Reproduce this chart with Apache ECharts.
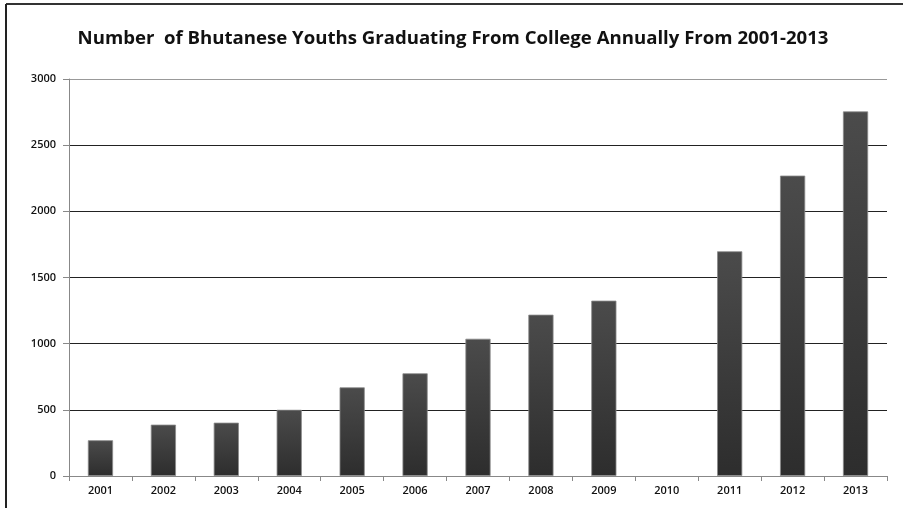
<!DOCTYPE html>
<html>
<head>
<meta charset="utf-8">
<script src="https://cdn.jsdelivr.net/npm/echarts@6/dist/echarts.min.js"></script>
<style>
html,body{margin:0;padding:0;background:#fff;}
#chart{width:903px;height:508px;}
</style>
</head>
<body>
<div id="chart"></div>
<script>
var titleText = 'Number  of Bhutanese Youths Graduating From College Annually From 2001-2013';
var years = ['2001','2002','2003','2004','2005','2006','2007','2008','2009','2010','2011','2012','2013'];
var graduates = [270, 388, 403, 500, 670, 776, 1037, 1219, 1325, 0, 1698, 2270, 2755];
var yTicks = [0, 500, 1000, 1500, 2000, 2500, 3000];

var chart = echarts.init(document.getElementById('chart'), null, {renderer: 'canvas'});
chart.setOption({
  animation: false,
  backgroundColor: '#ffffff',
  title: {
    text: titleText,
    left: 448,
    textAlign: 'center',
    top: 24,
    textStyle: {fontFamily: 'Open Sans', fontWeight: 'bold', fontSize: 18.6, color: '#111'}
  },
  graphic: [
    {type: 'line', shape: {x1: 6, y1: 4, x2: 903, y2: 4}, style: {stroke: '#333', lineWidth: 2}},
    {type: 'line', shape: {x1: 6, y1: 4, x2: 6, y2: 508}, style: {stroke: '#222', lineWidth: 2}}
  ],
  grid: {left: 69, right: 16, top: 79, bottom: 32, containLabel: false},
  xAxis: {
    type: 'category',
    data: years,
    axisLine: {lineStyle: {color: '#888', width: 1}},
    axisTick: {show: true, length: 5, lineStyle: {color: '#888'}},
    axisLabel: {fontFamily: 'Open Sans', fontSize: 11, color: '#111', margin: 9, fontWeight: 600}
  },
  yAxis: {
    type: 'value',
    min: yTicks[0],
    max: yTicks[yTicks.length - 1],
    interval: 500,
    axisLine: {show: true, lineStyle: {color: '#888', width: 1}},
    axisTick: {show: true, length: 6, lineStyle: {color: '#888'}},
    axisLabel: {fontFamily: 'Open Sans', fontSize: 11, color: '#111', margin: 13, fontWeight: 600,
      formatter: function (v) { return String(v); }},
    splitLine: {show: true, lineStyle: {color: ['#888', '#222', '#222', '#222', '#222', '#222', '#999'], width: 1}}
  },
  series: [{
    type: 'bar',
    data: graduates.map(function (v) {
      return v === 0 ? {value: v, itemStyle: {borderWidth: 0}} : v;
    }),
    barWidth: '40%',
    itemStyle: {
      color: new echarts.graphic.LinearGradient(0, 0, 0, 1, [
        {offset: 0, color: '#4b4b4b'},
        {offset: 1, color: '#2d2d2d'}
      ]),
      borderColor: '#8a8a8a',
      borderWidth: 0.8
    }
  }]
});
</script>
</body>
</html>
